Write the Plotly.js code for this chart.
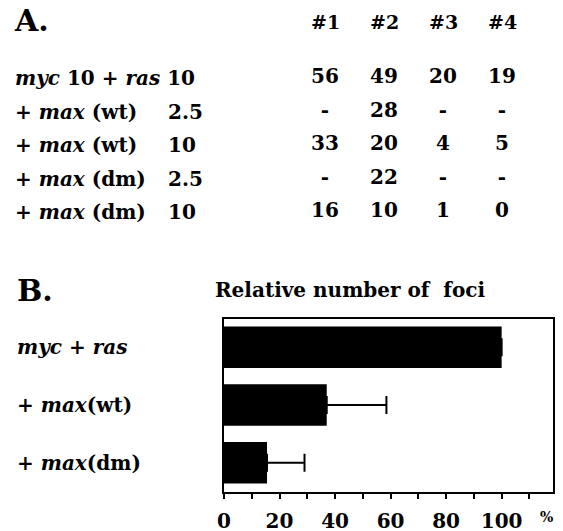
<!DOCTYPE html>
<html>
<head>
<meta charset="utf-8">
<script src="https://cdn.plot.ly/plotly-3.0.1.min.js"></script>
<style>html,body{margin:0;padding:0;background:#fff;}#chart{width:563px;height:531px;}</style>
</head>
<body>
<div id="chart"></div>
<script>
// ---- Panel A data (foci counts per experiment) ----
var expHeaders = ["#1", "#2", "#3", "#4"];
var rowLabels = ["<i>myc</i> 10 + <i>ras</i> 10", "+ <i>max</i> (wt)", "+ <i>max</i> (wt)", "+ <i>max</i> (dm)", "+ <i>max</i> (dm)"];
var rowDoses = ["", "2.5", "10", "2.5", "10"];
var exp1 = [56, null, 33, null, 16];
var exp2 = [49, 28, 20, 22, 10];
var exp3 = [20, null, 4, null, 1];
var exp4 = [19, null, 5, null, 0];

// ---- Panel B data (relative number of foci, %) ----
var barCategories = ["<i>myc</i> + <i>ras</i>", "+ <i>max</i>(wt)", "+ <i>max</i>(dm)"];
var barValues = [100, 37, 15.5];
var barErrors = [0, 21.5, 13.5];
var xTickVals = [0, 20, 40, 60, 80, 100];

var FONT = "DejaVu Serif";
var W = 563, H = 531;
function px2x(p) { return p / W; }
function py2y(p) { return (H - p) / H; }

var cols = [exp1, exp2, exp3, exp4];
var tx = [], ty = [], tt = [];
cols.forEach(function (col, i) {
  col.forEach(function (v, j) {
    tx.push(i); ty.push(j); tt.push(v === null ? "-" : String(v));
  });
});

var traces = [
  {
    type: "bar", orientation: "h",
    x: barValues, y: barCategories,
    marker: { color: "#000", line: { width: 0 } },
    error_x: { type: "data", symmetric: false, array: barErrors, arrayminus: barValues.map(function () { return 0; }),
               color: "#000", thickness: 2, width: 9, visible: true },
    xaxis: "x", yaxis: "y", hoverinfo: "skip"
  },
  {
    type: "scatter", mode: "text",
    x: tx, y: ty, text: tt,
    textfont: { family: FONT, size: 20, color: "#000", weight: "bold" },
    textposition: "middle center",
    xaxis: "x2", yaxis: "y2", hoverinfo: "skip"
  }
];

var annotations = [];
// Panel letters
annotations.push({ text: "A.", xref: "paper", yref: "paper", x: px2x(12), y: py2y(21), xanchor: "left", yanchor: "middle",
  showarrow: false, font: { family: FONT, size: 30, color: "#000", weight: "bold" } });
annotations.push({ text: "B.", xref: "paper", yref: "paper", x: px2x(15), y: py2y(291), xanchor: "left", yanchor: "middle",
  showarrow: false, font: { family: FONT, size: 30, color: "#000", weight: "bold" } });
// Headers
expHeaders.forEach(function (h, i) {
  annotations.push({ text: h, xref: "x2", yref: "paper", x: i, y: py2y(22), xanchor: "center", yanchor: "middle",
    showarrow: false, font: { family: FONT, size: 19, color: "#000", weight: "bold" } });
});
// Row labels and doses
rowLabels.forEach(function (r, j) {
  annotations.push({ text: r, xref: "paper", yref: "y2", x: px2x(13), y: j, xanchor: "left", yanchor: "middle",
    showarrow: false, font: { family: FONT, size: 20, color: "#000", weight: "bold" } });
  if (rowDoses[j]) {
    annotations.push({ text: rowDoses[j], xref: "paper", yref: "y2", x: px2x(166), y: j, xanchor: "left", yanchor: "middle",
      showarrow: false, font: { family: FONT, size: 20, color: "#000", weight: "bold" } });
  }
});
// Bar category labels
barCategories.forEach(function (c) {
  annotations.push({ text: c, xref: "paper", yref: "y", x: px2x(15), y: c, xanchor: "left", yanchor: "middle",
    showarrow: false, font: { family: FONT, size: 20, color: "#000", weight: "bold" } });
});
// Title of panel B
annotations.push({ text: "Relative number of  foci", xref: "paper", yref: "paper", x: px2x(350), y: py2y(290), xanchor: "center", yanchor: "middle",
  showarrow: false, font: { family: FONT, size: 20, color: "#000", weight: "bold" } });
// percent unit
annotations.push({ text: "%", xref: "paper", yref: "paper", x: px2x(546), y: py2y(517), xanchor: "center", yanchor: "middle",
  showarrow: false, font: { family: FONT, size: 14, color: "#000", weight: "bold" } });

var layout = {
  width: W, height: H,
  margin: { l: 0, r: 0, t: 0, b: 0 },
  paper_bgcolor: "#fff", plot_bgcolor: "#fff",
  showlegend: false,
  bargap: 0.28,
  xaxis: {
    domain: [px2x(224), px2x(553)],
    range: [0, 118.5],
    showgrid: false, zeroline: false,
    showline: true, linecolor: "#000", linewidth: 2, mirror: true,
    tickvals: xTickVals, ticks: "outside", ticklen: 5, tickwidth: 2, tickcolor: "#000",
    minor: { dtick: 10, tick0: 0, ticks: "outside", ticklen: 5, tickwidth: 2, tickcolor: "#000", showgrid: false },
    tickfont: { family: FONT, size: 20, color: "#000", weight: "bold" },
    ticklabelstandoff: 5,
    fixedrange: true
  },
  yaxis: {
    domain: [py2y(491.5), py2y(318.5)],
    type: "category",
    categoryorder: "array", categoryarray: barCategories,
    range: [2.5, -0.5],
    showgrid: false, zeroline: false,
    showline: true, linecolor: "#000", linewidth: 2, mirror: true,
    ticks: "", showticklabels: false,
    fixedrange: true
  },
  xaxis2: {
    domain: [0, 1], anchor: "y2",
    range: [-325 / 59, (563 - 325) / 59],
    visible: false, fixedrange: true
  },
  yaxis2: {
    domain: [py2y(260), 1], anchor: "x2",
    range: [(260 - 78) / 33.5, -78 / 33.5],
    visible: false, fixedrange: true
  },
  annotations: annotations
};

Plotly.newPlot("chart", traces, layout, { staticPlot: true, displayModeBar: false });
</script>
</body>
</html>
